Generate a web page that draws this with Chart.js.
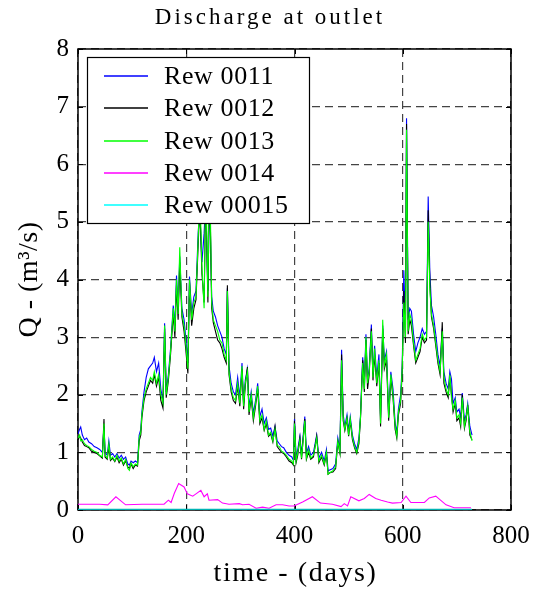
<!DOCTYPE html>
<html>
<head>
<meta charset="utf-8">
<script src="https://cdn.jsdelivr.net/npm/chart.js@4"></script>
<style>
  html, body { margin: 0; padding: 0; background: #fff; }
  #wrap { width: 535px; height: 590px; }
</style>
</head>
<body>
<div id="wrap"><canvas id="chart" width="535" height="590"></canvas></div>
<script>
// data ------------------------------------------------------------------
const seriesNames = ['Rew 0011', 'Rew 0012', 'Rew 0013', 'Rew 0014', 'Rew 00015'];
const xTicks = [0, 200, 400, 600, 800];
const yTicks = [0, 1, 2, 3, 4, 5, 6, 7, 8];

const days = [0, 3, 5, 8, 12, 16, 20, 25, 30, 35, 40, 45, 48, 50, 54, 57, 60, 64, 68, 72,
    76, 80, 84, 88, 92, 95, 98, 102, 106, 110, 113, 116, 118, 122, 126, 130, 134, 138, 141, 145,
    149, 153, 157, 160, 163, 167, 171, 176, 179, 182, 185, 188, 192, 196, 199, 203, 206, 210, 214, 218,
    222, 225, 229, 233, 236, 240, 243, 247, 250, 254, 258, 262, 266, 270, 274, 276, 279, 283, 287, 291,
    295, 299, 303, 306, 309, 313, 316, 320, 324, 328, 332, 336, 340, 344, 348, 352, 356, 360, 364, 368,
    372, 376, 380, 385, 390, 395, 398, 400, 403, 406, 410, 413, 419, 422, 426, 430, 435, 441, 445, 450,
    455, 459, 462, 466, 471, 476, 480, 484, 487, 490, 493, 497, 500, 503, 507, 511, 515, 519, 522, 526,
    529, 532, 535, 538, 542, 545, 548, 552, 556, 559, 563, 566, 570, 574, 578, 582, 586, 589, 592, 596,
    599, 602, 605, 607, 610, 613, 616, 620, 624, 628, 632, 636, 640, 644, 647, 650, 653, 657, 661, 665,
    669, 673, 676, 680, 684, 687, 690, 693, 697, 700, 704, 707, 710, 714, 717, 720, 724, 728];

const rew0011 = [1.32, 1.40, 1.44, 1.30, 1.22, 1.25, 1.18, 1.15, 1.10, 1.08, 1.05, 1.00, 1.45, 1.00, 0.95, 1.20, 0.95, 0.98, 0.92, 0.98,
    0.90, 0.95, 0.88, 0.92, 0.80, 0.78, 0.85, 0.82, 0.85, 0.82, 1.30, 1.40, 1.70, 2.05, 2.30, 2.45, 2.50, 2.55, 2.65, 2.40,
    2.55, 2.10, 1.90, 3.24, 2.05, 2.35, 2.80, 3.55, 3.20, 4.07, 3.50, 4.40, 3.50, 3.30, 3.00, 2.55, 4.05, 3.40, 3.70, 3.80,
    4.80, 5.20, 4.30, 4.80, 5.40, 3.80, 5.60, 3.70, 3.45, 3.35, 3.20, 3.10, 3.00, 2.80, 2.70, 3.85, 2.50, 2.20, 2.05, 2.00,
    2.30, 1.95, 2.55, 1.85, 2.25, 2.45, 1.78, 2.05, 1.68, 1.90, 2.20, 1.62, 1.75, 1.50, 1.60, 1.40, 1.42, 1.28, 1.45, 1.20,
    1.15, 1.10, 1.08, 1.00, 0.95, 0.92, 0.86, 1.58, 0.90, 1.05, 1.28, 0.95, 1.62, 0.98, 1.10, 0.95, 1.00, 1.30, 0.90, 1.00,
    0.85, 1.05, 0.68, 0.70, 0.72, 0.80, 1.25, 1.05, 2.78, 1.65, 1.45, 1.65, 1.38, 1.62, 1.30, 1.15, 1.05, 1.25, 1.65, 2.65,
    2.20, 3.05, 2.25, 2.45, 3.22, 2.35, 2.85, 2.30, 2.70, 1.60, 3.20, 2.60, 2.75, 1.65, 2.40, 2.10, 1.50, 1.35, 1.75, 2.00,
    2.50, 4.16, 3.20, 6.80, 3.30, 3.50, 3.45, 3.05, 2.75, 2.90, 3.00, 3.15, 3.05, 3.10, 5.44, 4.16, 3.55, 3.35, 3.05, 2.70,
    2.50, 3.15, 2.40, 2.20, 2.10, 2.40, 2.27, 1.85, 1.95, 1.70, 1.75, 1.60, 2.03, 1.55, 1.65, 1.85, 1.45, 1.30];

const rew0012 = [1.22, 1.28, 1.25, 1.18, 1.12, 1.10, 1.08, 1.02, 1.00, 0.98, 0.94, 0.90, 1.58, 0.92, 0.88, 1.10, 0.86, 0.90, 0.84, 0.92,
    0.82, 0.88, 0.78, 0.85, 0.75, 0.72, 0.80, 0.72, 0.78, 0.76, 1.20, 1.30, 1.60, 1.90, 2.05, 2.15, 2.25, 2.20, 2.35, 2.15,
    2.30, 1.90, 1.77, 3.15, 1.95, 2.25, 2.70, 3.40, 3.00, 3.90, 3.30, 4.30, 3.35, 3.10, 2.80, 2.37, 3.95, 3.20, 3.50, 3.65,
    4.60, 5.30, 4.10, 3.60, 5.50, 3.60, 5.90, 3.50, 3.25, 3.10, 2.95, 2.90, 2.80, 2.65, 2.55, 3.90, 2.35, 2.05, 1.90, 1.85,
    2.15, 1.80, 2.45, 1.75, 2.15, 2.48, 1.65, 1.95, 1.55, 1.80, 2.10, 1.50, 1.60, 1.38, 1.50, 1.28, 1.32, 1.18, 1.45, 1.10,
    1.05, 1.00, 0.98, 0.92, 0.85, 0.82, 0.78, 1.55, 0.82, 0.95, 1.25, 0.88, 1.58, 0.88, 1.00, 0.88, 0.92, 1.28, 0.82, 0.92,
    0.78, 0.98, 0.62, 0.65, 0.66, 0.72, 1.18, 0.98, 2.70, 1.55, 1.38, 1.58, 1.28, 1.55, 1.22, 1.08, 0.98, 1.15, 1.60, 2.60,
    2.05, 2.95, 2.10, 2.35, 3.15, 2.25, 2.70, 2.15, 2.55, 1.45, 3.15, 2.45, 2.60, 1.55, 2.30, 1.95, 1.40, 1.25, 1.65, 1.85,
    2.40, 3.80, 2.90, 6.70, 3.05, 3.30, 3.20, 2.85, 2.55, 2.65, 2.75, 3.00, 2.90, 2.95, 5.20, 3.95, 3.35, 3.15, 2.85, 2.55,
    2.35, 3.26, 2.20, 2.05, 1.95, 2.30, 2.00, 1.70, 1.85, 1.55, 1.60, 1.45, 2.00, 1.42, 1.55, 1.82, 1.30, 1.22];

const rew0013 = [1.25, 1.30, 1.20, 1.22, 1.15, 1.12, 1.10, 1.05, 1.02, 1.00, 0.95, 0.92, 1.50, 0.95, 0.90, 1.15, 0.88, 0.92, 0.85, 0.95,
    0.85, 0.90, 0.80, 0.88, 0.72, 0.69, 0.82, 0.75, 0.80, 0.78, 1.25, 1.35, 1.65, 1.95, 2.10, 2.20, 2.30, 2.25, 2.40, 2.20,
    2.35, 2.00, 1.85, 3.20, 2.00, 2.30, 2.75, 3.50, 3.10, 4.00, 3.40, 4.56, 3.40, 3.20, 2.90, 2.45, 4.00, 3.30, 3.60, 3.70,
    4.70, 5.60, 4.20, 3.50, 5.80, 3.70, 6.20, 3.60, 3.30, 3.20, 3.10, 2.95, 2.90, 2.70, 2.60, 3.80, 2.40, 2.10, 1.95, 1.90,
    2.20, 1.85, 2.50, 1.80, 2.20, 2.40, 1.70, 2.00, 1.60, 1.85, 2.15, 1.55, 1.65, 1.40, 1.55, 1.30, 1.35, 1.20, 1.40, 1.12,
    1.10, 1.02, 1.00, 0.95, 0.88, 0.85, 0.80, 1.50, 0.85, 1.00, 1.22, 0.90, 1.55, 0.90, 1.05, 0.90, 0.95, 1.25, 0.85, 0.95,
    0.80, 1.00, 0.62, 0.65, 0.68, 0.75, 1.20, 1.00, 2.60, 1.60, 1.40, 1.60, 1.30, 1.58, 1.25, 1.10, 1.00, 1.20, 1.62, 2.55,
    2.10, 3.00, 2.20, 2.40, 3.10, 2.30, 2.80, 2.20, 2.60, 1.50, 3.30, 2.50, 2.70, 1.60, 2.35, 2.00, 1.45, 1.28, 1.70, 1.90,
    2.45, 3.60, 3.00, 6.60, 3.10, 3.40, 3.30, 2.90, 2.60, 2.70, 2.80, 3.05, 2.95, 3.00, 5.00, 3.85, 3.40, 3.20, 2.90, 2.60,
    2.40, 3.10, 2.30, 2.10, 2.00, 2.35, 1.95, 1.75, 1.90, 1.60, 1.65, 1.50, 1.95, 1.45, 1.60, 1.80, 1.35, 1.20];

const daysLow = [0, 24, 40, 55, 70, 88, 119, 159, 167, 172, 178, 186, 196, 202, 212, 218, 227, 233, 239, 242,
    258, 267, 279, 298, 304, 316, 329, 341, 353, 366, 378, 390, 399, 415, 433, 448, 470, 486, 492, 498,
    504, 519, 529, 538, 550, 560, 572, 581, 597, 606, 615, 640, 649, 661, 680, 695, 726];
const rew0014 = [0.10, 0.10, 0.10, 0.09, 0.23, 0.09, 0.10, 0.10, 0.17, 0.13, 0.29, 0.46, 0.40, 0.28, 0.24, 0.28, 0.34, 0.23, 0.28, 0.17,
    0.18, 0.12, 0.10, 0.11, 0.09, 0.10, 0.03, 0.05, 0.03, 0.09, 0.09, 0.07, 0.07, 0.14, 0.23, 0.12, 0.10, 0.06, 0.11, 0.07,
    0.23, 0.16, 0.20, 0.27, 0.20, 0.17, 0.14, 0.12, 0.13, 0.24, 0.13, 0.13, 0.21, 0.24, 0.09, 0.04, 0.04];

const daysBase = [0, 728];
const rew00015 = [0.005, 0.005];

const colors = ['#0000ff', '#000000', '#00ff00', '#ff00ff', '#00ffff'];


// helpers -----------------------------------------------------------------
function toPoints(xs, ys) {
    return xs.map((x, i) => ({ x: x, y: ys[i] }));
}

const serif = '"Liberation Serif", "Times New Roman", serif';


// frame + inward ticks under the lines, legend and texts on top -------------
const matlabFrame = {
    id: 'matlabFrame',
    beforeDatasetsDraw(chart) {
        const ctx = chart.ctx;
        const a = chart.chartArea;
        const xs = chart.scales.x;
        const ys = chart.scales.y;
        ctx.save();
        ctx.strokeStyle = '#000';
        ctx.lineWidth = 1.5;
        ctx.strokeRect(a.left, a.top, a.right - a.left, a.bottom - a.top);

        ctx.lineWidth = 1;
        ctx.beginPath();
        xTicks.forEach(v => {
            const px = Math.round(xs.getPixelForValue(v)) + 0.5;
            ctx.moveTo(px, a.bottom); ctx.lineTo(px, a.bottom - 5);
            ctx.moveTo(px, a.top); ctx.lineTo(px, a.top + 5);
        });
        yTicks.forEach(v => {
            const py = Math.round(ys.getPixelForValue(v)) + 0.5;
            ctx.moveTo(a.left, py); ctx.lineTo(a.left + 5, py);
            ctx.moveTo(a.right, py); ctx.lineTo(a.right - 5, py);
        });
        ctx.stroke();
        ctx.restore();
    },
    afterDatasetsDraw(chart) {
        const ctx = chart.ctx;
        const a = chart.chartArea;
        ctx.save();

        // legend box
        const lx = 87, ly = 57, lw = 222, lh = 166;
        ctx.fillStyle = '#fff';
        ctx.fillRect(lx, ly, lw, lh);
        ctx.strokeStyle = '#000';
        ctx.lineWidth = 1.2;
        ctx.strokeRect(lx + 0.5, ly + 0.5, lw, lh);
        ctx.font = '26px ' + serif;
        ctx.letterSpacing = '0.6px';
        ctx.textBaseline = 'middle';
        ctx.textAlign = 'left';
        seriesNames.forEach((name, i) => {
            const yy = Math.round(76 + i * 32.3);
            ctx.strokeStyle = colors[i];
            ctx.lineWidth = 1.3;
            ctx.beginPath();
            ctx.moveTo(104, yy);
            ctx.lineTo(148, yy);
            ctx.stroke();
            ctx.fillStyle = '#000';
            ctx.fillText(name, 164, yy + 1);
        });

        // chart title
        ctx.fillStyle = '#000';
        ctx.font = '23px ' + serif;
        ctx.letterSpacing = '3px';
        ctx.textAlign = 'center';
        ctx.fillText('Discharge at outlet', 270, 18);

        // axis titles
        ctx.font = '28px ' + serif;
        ctx.letterSpacing = '1.6px';
        ctx.fillText('time - (days)', (a.left + a.right) / 2 + 1, 574);

        ctx.translate(30, (a.top + a.bottom) / 2);
        ctx.rotate(-Math.PI / 2);
        ctx.letterSpacing = '0.5px';
        ctx.fillText('Q - (m³/s)', 0, 0);
        ctx.restore();
    }
};


// chart --------------------------------------------------------------------
const datasets = [
    { label: seriesNames[0], data: toPoints(days, rew0011), borderColor: colors[0], order: 4 },
    { label: seriesNames[1], data: toPoints(days, rew0012), borderColor: colors[1], order: 3 },
    { label: seriesNames[2], data: toPoints(days, rew0013), borderColor: colors[2], order: 2 },
    { label: seriesNames[3], data: toPoints(daysLow, rew0014), borderColor: colors[3], order: 1 },
    { label: seriesNames[4], data: toPoints(daysBase, rew00015), borderColor: '#00b4b4', order: 0, borderWidth: 2 }
];
datasets.forEach(d => {
    d.borderWidth = d.borderWidth || 1.1;
    d.pointRadius = 0;
    d.tension = 0;
    d.fill = false;
});

new Chart(document.getElementById('chart'), {
    type: 'line',
    data: { datasets: datasets },
    options: {
        responsive: false,
        animation: false,
        layout: { padding: { top: 49, right: 24, left: 0, bottom: 0 } },
        plugins: {
            legend: { display: false },
            title: { display: false },
            tooltip: { enabled: false }
        },
        scales: {
            x: {
                type: 'linear',
                min: 0,
                max: 800,
                afterFit: s => {
                    s.height = 80;
                    s.paddingLeft = 0;
                    s.paddingRight = 0;
                },
                afterBuildTicks: s => { s.ticks = xTicks.map(v => ({ value: v })); },
                ticks: { color: '#000', padding: 11, maxRotation: 0, font: { family: serif, size: 25 } },
                grid: { color: '#444', lineWidth: 1.2, drawTicks: false },
                border: { display: false, dash: [8, 5] }
            },
            y: {
                min: 0,
                max: 8,
                afterFit: s => {
                    s.width = 78;
                    s.paddingTop = 0;
                    s.paddingBottom = 0;
                },
                afterBuildTicks: s => { s.ticks = yTicks.map(v => ({ value: v })); },
                ticks: { color: '#000', padding: 9, font: { family: serif, size: 25 } },
                grid: { color: '#444', lineWidth: 1.2, drawTicks: false },
                border: { display: false, dash: [8, 5] }
            }
        }
    },
    plugins: [matlabFrame]
});
</script>
</body>
</html>
